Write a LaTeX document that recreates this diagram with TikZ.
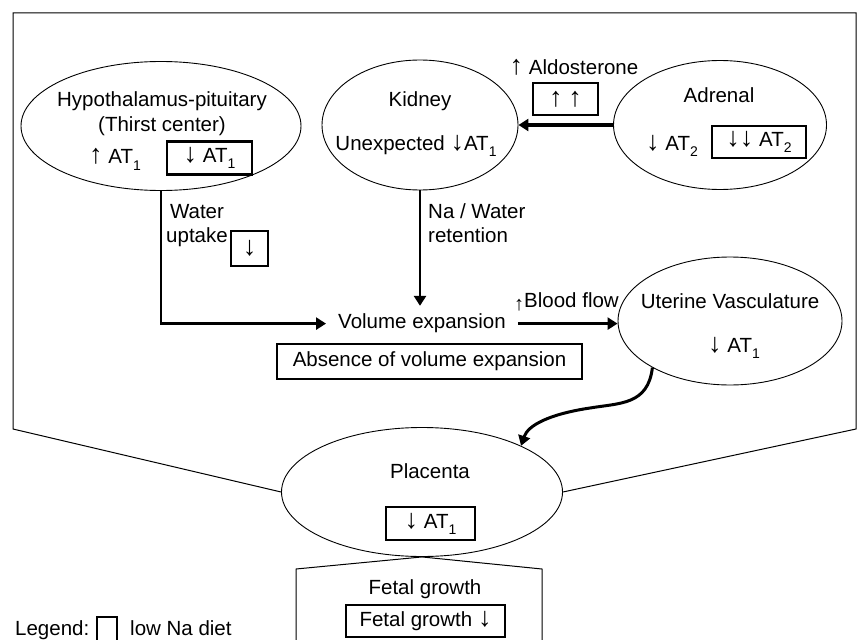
\documentclass[tikz,border=0pt]{standalone}
\usepackage{fontspec}
\setmainfont{Liberation Sans}
\usetikzlibrary{arrows.meta,positioning,shapes.geometric}
\newcommand{\lowsub}[1]{\raisebox{-0.3em}{\fontsize{14}{14}\selectfont #1}}
\newcommand{\uparr}{{\fontsize{27}{24}\selectfont ↑}}
\newcommand{\dnarr}{{\fontsize{27}{24}\selectfont ↓}}
\newcommand{\smallup}{\raisebox{-0.15em}{\fontsize{20}{20}\selectfont ↑}}

\begin{document}
\begin{tikzpicture}[
    x=1pt,y=-1pt,
    font=\fontsize{20.5}{24}\selectfont,
    organ/.style={draw,ellipse,line width=0.9pt,inner sep=0pt},
    lowbox/.style={draw,line width=2.5pt,inner sep=0pt,minimum height=33pt},
    lbl/.style={inner sep=0pt,anchor=base},
    arr/.style={-{Triangle[length=10pt,width=12pt]},line width=2.7pt},
    frame/.style={line width=1pt}
  ]
  \useasboundingbox (0,0) rectangle (858,639);

  \node[organ,minimum width=280pt,minimum height=129pt] (hyp) at (161,126) {};
  \node[organ,minimum width=196pt,minimum height=130pt] (kid) at (420,125) {};
  \node[organ,minimum width=213pt,minimum height=129pt] (adr) at (720,125) {};
  \node[organ,minimum width=224pt,minimum height=128pt] (ute) at (730,321) {};
  \node[organ,minimum width=281pt,minimum height=129pt] (plac) at (422,492) {};

  \node[lbl] (hyptxt) at (162,107) {Hypothalamus-pituitary};
  \node[lbl] (thirst) at (162,132) {(Thirst center)};
  \node[lbl,anchor=base west] (hypup) at (89,164) {\uparr\ AT\lowsub{1}};
  \node[lowbox,minimum width=85pt] (hypbox) at (209.5,158) {\dnarr\ AT\lowsub{1}};

  \node[lbl] (kidtxt) at (420,107) {Kidney};
  \node[lbl] (kidat) at (416,150) {Unexpected \dnarr AT\lowsub{1}};

  \node[lbl] (adrtxt) at (719,103) {Adrenal};
  \node[lbl] (adrat) at (672,150) {\dnarr\ AT\lowsub{2}};
  \node[lowbox,minimum width=94pt,minimum height=32pt] (adrbox) at (759,142) {\dnarr\dnarr\ AT\lowsub{2}};

  \node[lbl] (ald) at (574,75) {\uparr\ Aldosterone};
  \node[lowbox,minimum width=65pt,minimum height=32pt] (aldbox) at (565.5,99) {\uparr\ \uparr};

  \node[lbl,align=center] (water) at (197,242) {Water\\uptake};
  \node[lowbox,minimum width=37pt,minimum height=35pt] (waterbox) at (249.5,248.5) {\dnarr};
  \node[lbl,anchor=base west,align=left] (retain) at (428,242) {Na / Water\\retention};

  \node[inner xsep=12pt,inner ysep=8pt] (vol) at (422,323.6) {Volume expansion};
  \node[lowbox,minimum width=305pt,minimum height=35pt] (absent) at (429.5,361.5) {Absence of volume expansion};
  \node[lbl,anchor=base west] (flow) at (514,307) {\smallup Blood flow};

  \node[lbl] (utetxt) at (730,308) {Uterine Vasculature};
  \node[lbl] (uteat) at (734,352) {\dnarr\ AT\lowsub{1}};

  \node[lbl] (plactxt) at (430,478) {Placenta};
  \node[lowbox,minimum width=89pt] (placbox) at (430.5,523.5) {\dnarr\ AT\lowsub{1}};

  \node[lbl] (fetal) at (425,594) {Fetal growth};
  \node[lowbox,minimum width=159pt,minimum height=32pt] (fetalbox) at (425.5,621) {Fetal growth \dnarr};

  \node[lbl,anchor=base west] (legend) at (15,635) {Legend:};
  \node[lbl,anchor=base west] (lowna) at (130,635) {low Na diet};
  \draw[line width=2.5pt] (97,645) -- (97,617) -- (117,617) -- (117,645);

  \draw[frame] (plac.west) -- (13,429) -- (13,13) -- (856,13) -- (856,429) -- (plac.east);
  \draw[frame] (296,645) -- (296,569) -- (plac.south) -- (542,569) -- (542,645);

  \draw[arr] (hyp.south) |- (vol.west);
  \draw[arr] (kid.south) -- (kid.south |- vol.north);
  \draw[arr,line width=4pt] (adr.west) -- (kid.east);
  \draw[arr] (vol.east) -- (vol.east -| ute.west);
  \draw[arr,line width=3pt] (ute.211) .. controls (648,405) and (620,403) .. (590,408)
    .. controls (550,414) and (528,425) .. (plac.25);
\end{tikzpicture}
\end{document}
